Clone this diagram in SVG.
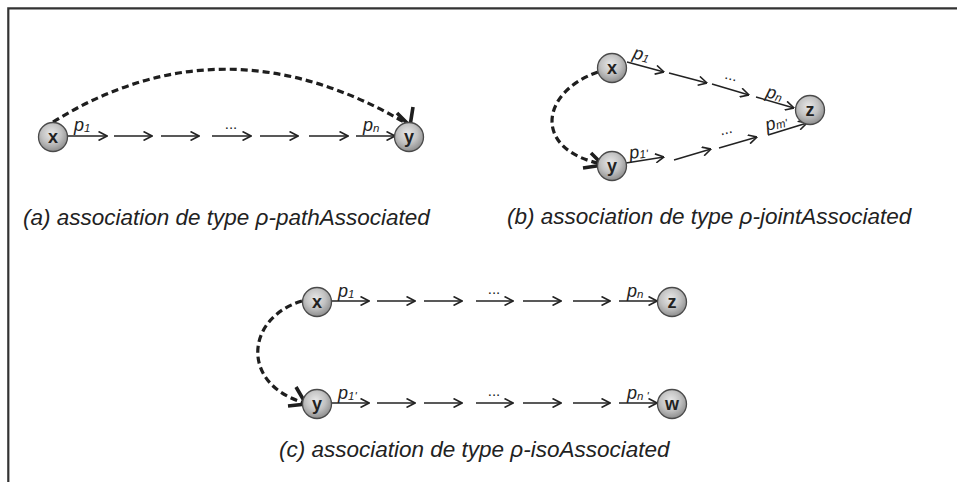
<svg xmlns="http://www.w3.org/2000/svg" width="957" height="482" viewBox="0 0 957 482">
<defs>
<radialGradient id="g" cx="0.45" cy="0.38" r="0.62">
<stop offset="0" stop-color="#e8e8e8"/>
<stop offset="0.55" stop-color="#c2c2c2"/>
<stop offset="1" stop-color="#8e8e8e"/>
</radialGradient>
<marker id="ah" viewBox="0 0 10 10" refX="9.5" refY="5" markerWidth="10" markerHeight="10" markerUnits="userSpaceOnUse" orient="auto">
<path d="M1,0.5 L9.5,5 L1,9.5" fill="none" stroke="#222" stroke-width="1.6"/>
</marker>
<style>
.frame{stroke:#333;stroke-width:2.2;fill:none}
.edge{stroke:#222;stroke-width:1.5;fill:none;marker-end:url(#ah)}
.dash{stroke:#1e1e1e;stroke-width:3.2;fill:none;stroke-dasharray:7 4}
.head{stroke:#1e1e1e;stroke-width:3.6;fill:none;stroke-linejoin:miter}
.node circle{fill:url(#g);stroke:#4a4a4a;stroke-width:1.3}
.node text{font-family:"Liberation Sans",Arial,sans-serif;font-weight:bold;font-size:18px;fill:#222;text-anchor:middle}
.lbl{font-family:"Liberation Sans",Arial,sans-serif;font-style:italic;font-size:18px;fill:#222}
.sub{font-size:11.5px}
.dots{font-family:"Liberation Sans",Arial,sans-serif;font-size:15px;fill:#222;text-anchor:middle}
.cap{font-family:"Liberation Sans",Arial,sans-serif;font-style:italic;font-size:22.5px;fill:#222}
</style>
</defs>
<rect width="957" height="482" fill="#fff"/>
<path class="frame" d="M8.3,482 L8.3,8.3 L957,8.3"/>

<g id="connectors">
<!-- (a) -->
<line class="edge" x1="68" y1="136" x2="107" y2="136"/>
<line class="edge" x1="114" y1="136" x2="152" y2="136"/>
<line class="edge" x1="161" y1="136" x2="199" y2="136"/>
<line class="edge" x1="212" y1="136" x2="251" y2="136"/>
<line class="edge" x1="260" y1="136" x2="298" y2="136"/>
<line class="edge" x1="309" y1="136" x2="348" y2="136"/>
<line class="edge" x1="356" y1="136" x2="395" y2="136"/>
<path class="dash" d="M53,122 Q225,15 409,125"/>
<path class="head" d="M397,113 L410,126 L413,107"/>
<!-- (b) -->
<line class="edge" x1="627" y1="62" x2="664" y2="72"/>
<line class="edge" x1="669" y1="73" x2="707" y2="83"/>
<line class="edge" x1="712" y1="84" x2="749" y2="95"/>
<line class="edge" x1="756" y1="97" x2="794" y2="108"/>
<line class="edge" x1="626" y1="163" x2="664" y2="157"/>
<line class="edge" x1="674" y1="160" x2="711" y2="149"/>
<line class="edge" x1="719" y1="148" x2="757" y2="137"/>
<line class="edge" x1="768" y1="135" x2="807" y2="123"/>
<path class="dash" d="M598,72 C540,92 532,150 602,164"/>
<path class="head" d="M583,168 L603,165 L591,153"/>
<!-- (c) -->
<line class="edge" x1="332" y1="301" x2="369" y2="301"/>
<line class="edge" x1="377" y1="301" x2="415" y2="301"/>
<line class="edge" x1="424" y1="301" x2="462" y2="301"/>
<line class="edge" x1="476" y1="301" x2="513" y2="301"/>
<line class="edge" x1="523" y1="301" x2="561" y2="301"/>
<line class="edge" x1="573" y1="301" x2="610" y2="301"/>
<line class="edge" x1="619" y1="301" x2="657" y2="301"/>
<line class="edge" x1="332" y1="403" x2="369" y2="403"/>
<line class="edge" x1="377" y1="403" x2="415" y2="403"/>
<line class="edge" x1="424" y1="403" x2="462" y2="403"/>
<line class="edge" x1="476" y1="403" x2="513" y2="403"/>
<line class="edge" x1="523" y1="403" x2="561" y2="403"/>
<line class="edge" x1="573" y1="403" x2="610" y2="403"/>
<line class="edge" x1="619" y1="403" x2="657" y2="403"/>
<path class="dash" d="M302,301 C245,318 240,385 305,403"/>
<path class="head" d="M288,406 L306,404 L296,387"/>
</g>

<g id="labels">
<text class="lbl" x="74" y="131">p<tspan class="sub" dy="1">1</tspan></text>
<text class="lbl" x="363" y="131">p<tspan class="sub" dy="1">n</tspan></text>
<text class="dots" x="231" y="129">...</text>

<text class="lbl" transform="translate(632,58) rotate(15)">p<tspan class="sub" dy="1">1</tspan></text>
<text class="lbl" transform="translate(765,97) rotate(15)">p<tspan class="sub" dy="1">n</tspan></text>
<text class="dots" transform="translate(730,80) rotate(15)">...</text>
<text class="lbl" transform="translate(630,159) rotate(-8)">p<tspan class="sub" dy="1">1'</tspan></text>
<text class="lbl" transform="translate(767,131) rotate(-15)">p<tspan class="sub" dy="1">m'</tspan></text>
<text class="dots" transform="translate(727,134) rotate(-15)">...</text>

<text class="lbl" x="338" y="297">p<tspan class="sub" dy="1">1</tspan></text>
<text class="lbl" x="627" y="297">p<tspan class="sub" dy="1">n</tspan></text>
<text class="dots" x="494" y="294">...</text>
<text class="lbl" x="338" y="399">p<tspan class="sub" dy="1">1'</tspan></text>
<text class="lbl" x="627" y="399">p<tspan class="sub" dy="1">n '</tspan></text>
<text class="dots" x="494" y="396">...</text>

<text class="cap" x="23" y="225">(a) association de type ρ-pathAssociated</text>
<text class="cap" x="507" y="224">(b) association de type ρ-jointAssociated</text>
<text class="cap" x="279" y="457">(c) association de type ρ-isoAssociated</text>
</g>

<g id="a-x" class="node"><circle cx="53" cy="137" r="14.5"/><text x="53" y="142.5">x</text></g>
<g id="a-y" class="node"><circle cx="409" cy="137" r="14.5"/><text x="409" y="142.5">y</text></g>
<g id="b-x" class="node"><circle cx="612" cy="68" r="14.5"/><text x="612" y="73.5">x</text></g>
<g id="b-y" class="node"><circle cx="612" cy="166" r="14.5"/><text x="612" y="171.5">y</text></g>
<g id="b-z" class="node"><circle cx="810" cy="110" r="14.5"/><text x="810" y="115.5">z</text></g>
<g id="c-x" class="node"><circle cx="317" cy="302" r="14.5"/><text x="317" y="307.5">x</text></g>
<g id="c-z" class="node"><circle cx="672" cy="302" r="14.5"/><text x="672" y="307.5">z</text></g>
<g id="c-y" class="node"><circle cx="317" cy="404" r="14.5"/><text x="317" y="409.5">y</text></g>
<g id="c-w" class="node"><circle cx="672" cy="404" r="14.5"/><text x="672" y="409.5">w</text></g>
</svg>
